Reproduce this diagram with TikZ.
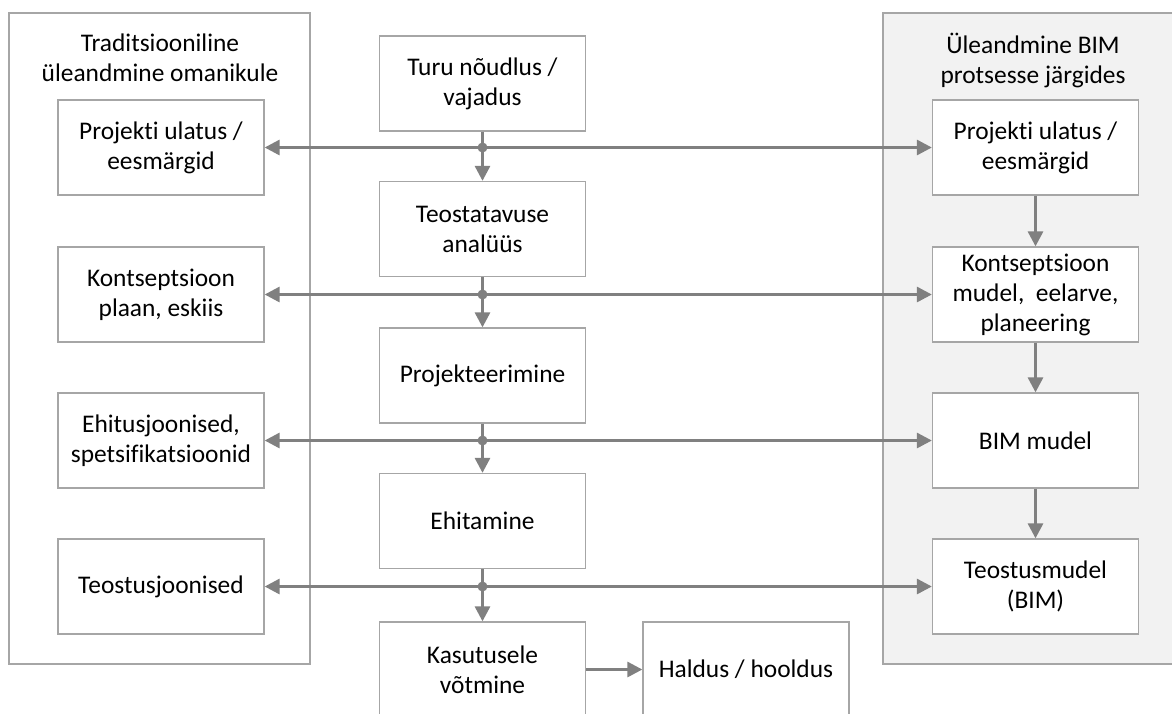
\documentclass[tikz,border=0pt]{standalone}
\usepackage{fontspec}
\setmainfont{Carlito}[Ligatures={NoCommon}]
\usetikzlibrary{arrows.meta}
\definecolor{boxline}{HTML}{A6A6A6}
\definecolor{flow}{HTML}{808080}
\definecolor{panel}{HTML}{F2F2F2}
\begin{document}
\begin{tikzpicture}[x=1pt,y=-1pt,
  every node/.style={font=\fontsize{25.4}{30}\selectfont, text=black},
  stepbox/.style={draw=boxline, line width=1.3pt, fill=white, minimum width=206pt,
    minimum height=95pt, align=center, inner sep=0pt},
  panelbox/.style={draw=boxline, line width=1.3pt},
  arr/.style={draw=flow, line width=3pt, -{Triangle[length=15pt,width=15pt]}},
  dot/.style={fill=flow}]
\useasboundingbox (0,0) rectangle (1172,713);

% side panels
\draw[panelbox, fill=white] (9,13) rectangle (310,664);
\draw[panelbox, fill=panel] (883,13) rectangle (1180,664);
\node[align=center] (ltitle) at (160,58) {Traditsiooniline\\üleandmine omanikule};
\node[align=center] (rtitle) at (1033,60) {Üleandmine BIM\\protsesse järgides};

% left column
\node[stepbox] (L1) at (161,147.5) {Projekti ulatus /\\eesmärgid};
\node[stepbox] (L2) at (161,294.5) {Kontseptsioon\\plaan, eskiis};
\node[stepbox] (L3) at (161,440.5) {Ehitusjoonised,\\spetsifikatsioonid};
\node[stepbox] (L4) at (161,586.5) {Teostusjoonised};

% middle column
\node[stepbox] (C1) at (482.5,83.5) {Turu nõudlus /\\vajadus};
\node[stepbox] (C2) at (482.5,229) {Teostatavuse\\analüüs};
\node[stepbox] (C3) at (482.5,375.5) {Projekteerimine};
\node[stepbox] (C4) at (482.5,521) {Ehitamine};
\node[stepbox] (C5) at (482.5,669.5) {Kasutusele\\võtmine};
\node[stepbox] (C6) at (746,669.5) {Haldus / hooldus};

% right column
\node[stepbox] (R1) at (1035.5,147.5) {Projekti ulatus /\\eesmärgid};
\node[stepbox] (R2) at (1035.5,294.5) {Kontseptsioon\\mudel,~ eelarve,\\planeering};
\node[stepbox] (R3) at (1035.5,440.5) {BIM mudel};
\node[stepbox] (R4) at (1035.5,586.5) {Teostusmudel\\(BIM)};

% junctions on the middle flow
\coordinate (J1) at (482.5,147.5);
\coordinate (J2) at (482.5,294.5);
\coordinate (J3) at (482.5,440.5);
\coordinate (J4) at (482.5,586.5);

% middle flow
\draw[arr] (C1) -- (C2);
\draw[arr] (C2) -- (C3);
\draw[arr] (C3) -- (C4);
\draw[arr] (C4) -- (C5);
\draw[arr] (C5) -- (C6);

% hand-over to both sides
\foreach \j/\l/\r in {J1/L1/R1, J2/L2/R2, J3/L3/R3, J4/L4/R4} {
  \draw[arr] (\j) -- (\l.east);
  \draw[arr] (\j) -- (\r.west);
  \fill[dot] (\j) circle (5pt);
}

% right column flow
\draw[arr] (R1) -- (R2);
\draw[arr] (R2) -- (R3);
\draw[arr] (R3) -- (R4);
\end{tikzpicture}
\end{document}
